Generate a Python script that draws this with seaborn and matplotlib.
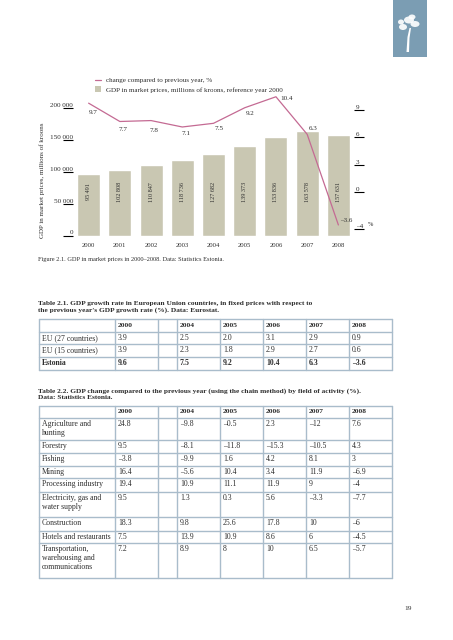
import matplotlib
matplotlib.use("Agg")
import matplotlib.pyplot as plt
import seaborn as sns
import numpy as np
from matplotlib.lines import Line2D
from matplotlib.patches import Patch, Rectangle, Ellipse, Polygon

sns.set_style("white")
plt.rcParams['font.family'] = ['Liberation Serif', 'DejaVu Serif']

# --- data ---
years = ["2000", "2001", "2002", "2003", "2004", "2005", "2006", "2007", "2008"]
gdp = [95491, 102808, 110847, 118736, 127682, 139373, 153836, 163578, 157631]
growth = [9.7, 7.7, 7.8, 7.1, 7.5, 9.2, 10.4, 6.3, -3.6]

t1_cols = ["2000", "", "2004", "2005", "2006", "2007", "2008"]
t1_rows = ["EU (27 countries)", "EU (15 countries)", "Estonia"]
t1_eu27 = ["3.9", "", "2.5", "2.0", "3.1", "2.9", "0.9"]
t1_eu15 = ["3.9", "", "2.3", "1.8", "2.9", "2.7", "0.6"]
t1_est = ["9.6", "", "7.5", "9.2", "10.4", "6.3", "–3.6"]

t2_rows = ["Agriculture and\nhunting", "Forestry", "Fishing", "Mining",
           "Processing industry", "Electricity, gas and\nwater supply",
           "Construction", "Hotels and restaurants",
           "Transportation,\nwarehousing and\ncommunications"]
t2_agri = ["24.8", "", "–9.8", "–0.5", "2.3", "–12", "7.6"]
t2_forest = ["9.5", "", "–8.1", "–11.8", "–15.3", "–10.5", "4.3"]
t2_fish = ["–3.8", "", "–9.9", "1.6", "4.2", "8.1", "3"]
t2_mining = ["16.4", "", "–5.6", "10.4", "3.4", "11.9", "–6.9"]
t2_proc = ["19.4", "", "10.9", "11.1", "11.9", "9", "–4"]
t2_elec = ["9.5", "", "1.3", "0.3", "5.6", "–3.3", "–7.7"]
t2_constr = ["18.3", "", "9.8", "25.6", "17.8", "10", "–6"]
t2_hotel = ["7.5", "", "13.9", "10.9", "8.6", "6", "–4.5"]
t2_trans = ["7.2", "", "8.9", "8", "10", "6.5", "–5.7"]

text_col = "#2e2e2e"
bar_col = "#c9c7b2"
line_col = "#c46a93"
grid_col = "#a9bccb"
fs = 5.1
tfs = 5.6

fig = plt.figure(figsize=(4.53, 6.40), dpi=100)

# page layer in pixel coordinates (for tables / captions)
page = fig.add_axes([0, 0, 1, 1], zorder=0)
page.set_xlim(0, 453)
page.set_ylim(640, 0)
page.axis("off")

# --- chart ---
ax = fig.add_axes([73 / 453, 1 - 235.5 / 640, (354 - 73) / 453, 130.5 / 640], zorder=2)
ax.patch.set_alpha(0)
sns.barplot(x=years, y=gdp, color=bar_col, saturation=1, width=0.74, ax=ax)
ax.set_xlim(-0.5, 8.5)
ax.set_ylim(0, 204000)
yt = [0, 50000, 100000, 150000, 200000]
ax.set_yticks(yt)
ax.set_yticklabels([f"{v:,}".replace(",", " ") for v in yt])
for lab in ax.get_yticklabels():
    lab.set_va("bottom")
ax.tick_params(axis="y", direction="out", length=7, width=0.8, color="black",
               pad=-7, labelsize=fs, labelcolor=text_col, left=True)
ax.tick_params(axis="x", length=0, pad=5.5, labelsize=4.8, labelcolor=text_col)
ax.set_xlabel("")
ax.set_ylabel("GDP in market prices, millions of kroons", fontsize=5.0,
              color=text_col, labelpad=1.5)
ax.yaxis.set_label_coords(-0.098, 0.42)
for s in ax.spines.values():
    s.set_visible(False)

for i, v in enumerate(gdp):
    ax.text(i, 68000, f"{v:,}".replace(",", " "), rotation=90, ha="center",
            va="center", fontsize=4.4, color=text_col)

ax2 = ax.twinx()
ax2.plot(years, growth, color=line_col, lw=0.9, clip_on=False)
ax2.set_ylim(-4.75, 9.5)
ax2.set_yticks([-4, 0, 3, 6, 9])
ax2.set_yticklabels(["–4", "0", "3", "6", "9"])
for lab in ax2.get_yticklabels():
    lab.set_va("bottom")
ax2.tick_params(axis="y", direction="out", length=7, width=0.8, color="black",
                pad=-5.5, labelsize=fs, labelcolor=text_col, right=True)
for s in ax2.spines.values():
    s.set_visible(False)
ax2.annotate("%", xy=(1, -4), xycoords=("axes fraction", "data"),
             xytext=(10, 1), textcoords="offset points", fontsize=4.6,
             color=text_col, va="bottom")

offsets = [(3, -7), (2, -6), (2, -7), (3, -5), (4, -4), (4, -4.5), (8, -1), (4, 4), (6, 3.5)]
for i, (g, off) in enumerate(zip(growth, offsets)):
    ax2.annotate(f"{g}".replace("-", "–"), xy=(i, g), xytext=off,
                 textcoords="offset points", ha="center", va="center",
                 fontsize=fs, color=text_col, annotation_clip=False)

handles = [Line2D([0], [0], color=line_col, lw=0.9),
           Patch(facecolor=bar_col, edgecolor="none")]
fig.legend(handles, ["change compared to previous year, %",
                     "GDP in market prices, millions of kroons, reference year 2000"],
           loc="upper left", bbox_to_anchor=(95 / 453, 1 - 77 / 640),
           frameon=False, fontsize=fs, handlelength=0.9, handleheight=0.9,
           handletextpad=0.7, labelspacing=0.4, labelcolor=text_col,
           borderaxespad=0, borderpad=0)

page.text(38, 260, "Figure 2.1. GDP in market prices in 2000–2008. Data: Statistics Estonia.",
          fontsize=4.6, color=text_col, va="center")

# --- tables ---
col_edges = [39, 115, 158, 177, 220, 263, 306, 349, 392]


def draw_table(top_rows, row_edges, header, rows, bold_rows=()):
    for x in col_edges:
        page.plot([x, x], [row_edges[0], row_edges[-1]], color=grid_col, lw=1.0)
    for y in row_edges:
        page.plot([col_edges[0], col_edges[-1]], [y, y], color=grid_col, lw=1.0)
    for j, h in enumerate(header):
        page.text(col_edges[j + 1] + 3, (row_edges[0] + row_edges[1]) / 2, h,
                  fontsize=5.4, fontweight="bold", color=text_col, va="center")
    for r, (label, vals) in enumerate(zip(top_rows, rows)):
        y0 = row_edges[r + 1]
        fw = "bold" if r in bold_rows else "normal"
        page.text(col_edges[0] + 3, y0 + 2.2, label, fontsize=tfs, color=text_col,
                  va="top", fontweight=fw, linespacing=1.15)
        for j, v in enumerate(vals):
            page.text(col_edges[j + 1] + 3, y0 + 2.2, v, fontsize=tfs, color=text_col,
                      va="top", fontweight=fw)


page.text(38, 301, "Table 2.1. GDP growth rate in European Union countries, in fixed prices with respect to\n"
          "the previous year's GDP growth rate (%). Data: Eurostat.",
          fontsize=5.3, fontweight="bold", color=text_col, va="top", linespacing=1.2)
draw_table(t1_rows, [319, 331.7, 344.3, 357, 370], t1_cols,
           [t1_eu27, t1_eu15, t1_est], bold_rows=(2,))

page.text(38, 388, "Table 2.2. GDP change compared to the previous year (using the chain method) by field of activity (%).\n"
          "Data: Statistics Estonia.",
          fontsize=5.3, fontweight="bold", color=text_col, va="top", linespacing=1.2)
draw_table(t2_rows, [405.7, 418, 440, 452.7, 465.7, 478, 491.7, 517, 530.7, 543, 578],
           t1_cols,
           [t2_agri, t2_forest, t2_fish, t2_mining, t2_proc, t2_elec,
            t2_constr, t2_hotel, t2_trans])

page.text(404, 609, "19", fontsize=5.4, color=text_col, va="center")

# logo
page.add_patch(Rectangle((392.7, 0), 34, 56.7, facecolor="#7b9db3", edgecolor="none"))
page.add_patch(Polygon([[406.5, 52], [409, 52], [409.5, 38], [411, 28], [409.5, 28], [407.5, 37]],
                       closed=True, facecolor="white", edgecolor="none"))
for cx, cy, w, h in [(403, 27, 8, 6), (409, 20, 10, 7), (415, 24, 9, 6), (401, 22, 6, 5), (412, 17, 7, 5)]:
    page.add_patch(Ellipse((cx, cy), w, h, facecolor="white", edgecolor="none", alpha=0.9))

fig.savefig("out.png", dpi=100)
